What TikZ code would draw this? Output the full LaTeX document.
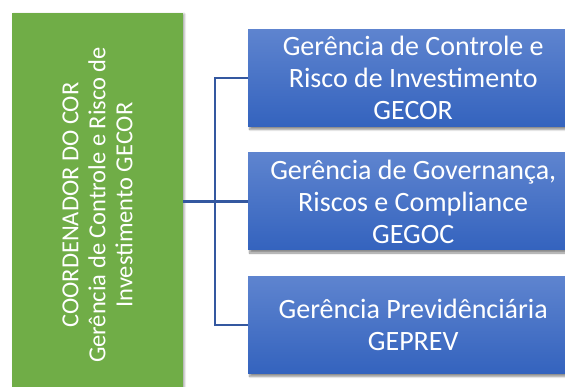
\documentclass[tikz,border=0pt]{standalone}
\usepackage{fontspec}
\setmainfont{Carlito}
\usetikzlibrary{shadows.blur}
\definecolor{gbox}{RGB}{112,173,71}
\definecolor{btop}{RGB}{94,132,207}
\definecolor{bbot}{RGB}{52,99,190}
\definecolor{conn}{RGB}{52,88,160}
\tikzset{
  gerbox/.style={shape=rectangle, top color=btop, bottom color=bbot, draw=none,
    minimum width=330pt, minimum height=97pt, text=white, align=center,
    font=\fontsize{28}{32}\selectfont, inner sep=0pt,
    blur shadow={shadow xshift=1.5pt, shadow yshift=-3pt, shadow blur steps=6, shadow opacity=45}},
  coordbox/.style={shape=rectangle, fill=gbox, draw=none, rotate=90,
    minimum width=384pt, minimum height=171pt, text=white, align=center,
    font=\fontsize{24.5}{27}\selectfont, inner sep=0pt,
    blur shadow={shadow xshift=1.5pt, shadow yshift=-1pt, shadow blur steps=4, shadow opacity=35}},
  connline/.style={draw=conn, line width=1.6pt},
}
\begin{document}
\begin{tikzpicture}[x=1pt,y=-1pt]
\useasboundingbox (0,0) rectangle (565,387);
\node[coordbox] (coord) at (97.5,205) {COORDENADOR DO COR\\Gerência de Controle e Risco de\\Investimento GECOR};
\node[gerbox, anchor=west] (b1) at (248,78) {Gerência de Controle e\\Risco de Investimento\\GECOR};
\node[gerbox, anchor=west] (b2) at (248,201.5) {Gerência de Governança,\\Riscos e Compliance\\GEGOC};
\node[gerbox, anchor=west] (b3) at (248,325) {Gerência Previdênciária\\GEPREV};
\coordinate (bus) at (215,0);
\draw[connline, line width=2.2pt] (coord.south |- b2.west) -- (b2.west);
\draw[connline] (b1.west) -| (bus |- b2.west) |- (b3.west);
\end{tikzpicture}
\end{document}
